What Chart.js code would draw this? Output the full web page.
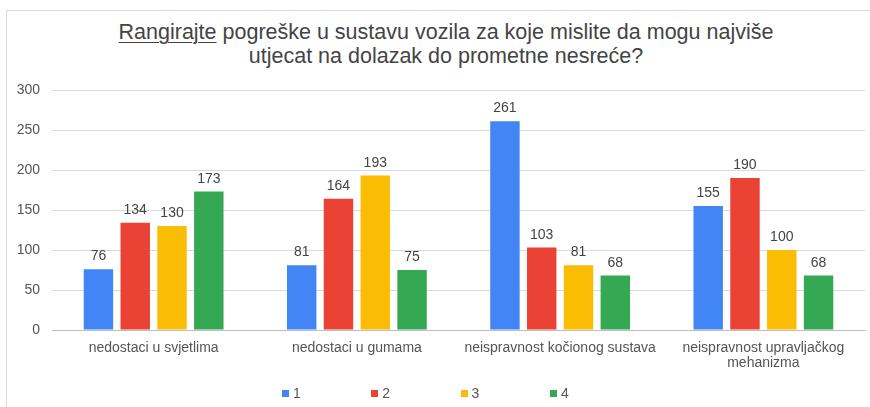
<!DOCTYPE html>
<html>
<head>
<meta charset="utf-8">
<script src="https://cdn.jsdelivr.net/npm/chart.js@4.4.1/dist/chart.umd.min.js"></script>
<style>
    html, body { margin: 0; padding: 0; background: #fff; }
    body { width: 870px; height: 407px; position: relative; overflow: hidden; font-family: "Liberation Sans", Arial, sans-serif; }
    .frame { position: absolute; left: 6px; top: 10px; width: 880px; height: 420px; border-left: 1px solid #dadada; border-top: 1px solid #dadada; }
    .title { position: absolute; left: 0; top: 20px; width: 892px; text-align: center; font-size: 21.5px; line-height: 24px; color: #444; }
    .title u { text-underline-offset: 3px; text-decoration-thickness: 1px; }
    .chart-box { position: absolute; left: 0; top: 0; width: 870px; height: 407px; }
    #legend { position: absolute; left: 282px; top: 385px; display: flex; font-size: 14px; color: #555; line-height: 16px; }
    #legend .item { display: flex; align-items: center; margin-right: 70.5px; }
    #legend .box { width: 7px; height: 7px; margin-right: 4px; }
</style>
</head>
<body>
<div class="frame"></div>
<div class="title"><u>Rangirajte</u> pogreške u sustavu vozila za koje mislite da mogu najviše<br>utjecat na dolazak do prometne nesreće?</div>
<div class="chart-box"><canvas id="chart"></canvas></div>
<div id="legend"></div>

<script>
    const categories = [
        'nedostaci u svjetlima',
        'nedostaci u gumama',
        'neispravnost kočionog sustava',
        ['neispravnost upravljačkog', 'mehanizma']
    ];
    const seriesNames = ['1', '2', '3', '4'];
    const rank1 = [76, 81, 261, 155];
    const rank2 = [134, 164, 103, 190];
    const rank3 = [130, 193, 81, 100];
    const rank4 = [173, 75, 68, 68];
    const colors = ['#4285F4', '#EA4335', '#FBBC04', '#34A853'];

    const fontFamily = '"Liberation Sans", Arial, sans-serif';

    // value labels above each bar
    const valueLabels = {
        id: 'valueLabels',
        afterDatasetsDraw(chart) {
            const ctx = chart.ctx;
            ctx.save();
            ctx.font = '14px ' + fontFamily;
            ctx.fillStyle = '#444';
            ctx.textAlign = 'center';
            ctx.textBaseline = 'alphabetic';
            chart.data.datasets.forEach((ds, i) => {
                chart.getDatasetMeta(i).data.forEach((bar, j) => {
                    ctx.fillText(ds.data[j], bar.x, bar.y - 9);
                });
            });
            ctx.restore();
        }
    };

    // legend built as html under the chart
    const htmlLegend = {
        id: 'htmlLegend',
        afterUpdate(chart) {
            const box = document.getElementById('legend');
            box.innerHTML = '';
            chart.data.datasets.forEach(ds => {
                box.innerHTML += `<div class="item"><span class="box" style="background:${ds.backgroundColor}"></span><span>${ds.label}</span></div>`;
            });
        }
    };

    const datasets = [rank1, rank2, rank3, rank4].map((vals, i) => ({
        label: seriesNames[i],
        data: vals,
        backgroundColor: colors[i],
        categoryPercentage: 0.724,
        barPercentage: 0.8
    }));

    new Chart(document.getElementById('chart'), {
        type: 'bar',
        data: { labels: categories, datasets: datasets },
        options: {
            responsive: true,
            maintainAspectRatio: false,
            animation: false,
            devicePixelRatio: 1,
            layout: { padding: { top: 90, right: 5, left: 0, bottom: 0 } },
            plugins: {
                legend: { display: false },
                title: { display: false },
                tooltip: { enabled: false }
            },
            scales: {
                x: {
                    grid: { display: false, drawTicks: false },
                    border: { color: '#bdbdbd' },
                    ticks: { color: '#555', padding: 10, font: { size: 14, family: fontFamily, lineHeight: 1.1 } },
                    afterFit: s => { s.height = 77; }
                },
                y: {
                    min: 0,
                    max: 300,
                    ticks: { stepSize: 50, color: '#555', padding: 12, font: { size: 14, family: fontFamily } },
                    grid: { color: '#d9d9d9', drawTicks: false },
                    border: { display: false },
                    afterFit: s => { s.width = 52; }
                }
            }
        },
        plugins: [valueLabels, htmlLegend]
    });
</script>
</body>
</html>
